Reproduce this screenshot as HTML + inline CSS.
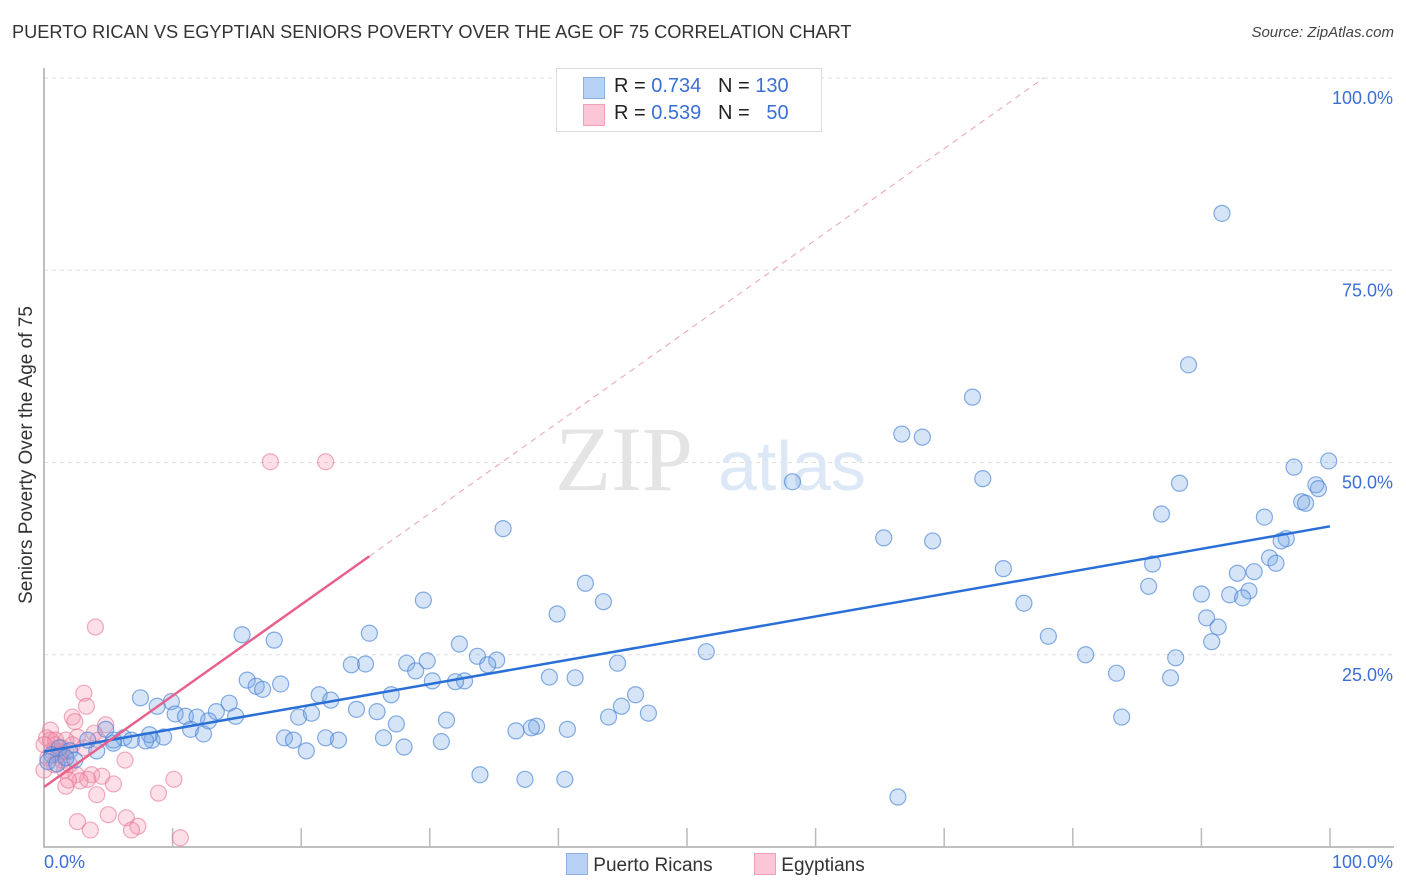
<!DOCTYPE html>
<html><head><meta charset="utf-8"><style>
body{margin:0;background:#fff;font-family:"Liberation Sans",sans-serif;}
#c{position:relative;width:1406px;height:892px;overflow:hidden}
.t{position:absolute;white-space:nowrap}
</style></head><body>
<div id="c">
<div class="t" style="left:12px;top:22px;font-size:18.2px;color:#333">PUERTO RICAN VS EGYPTIAN SENIORS POVERTY OVER THE AGE OF 75 CORRELATION CHART</div>
<div class="t" style="right:12px;top:24px;font-size:15px;color:#444;font-style:italic">Source: ZipAtlas.com</div>
<svg id="s" width="1406" height="892" style="position:absolute;left:0;top:0"></svg>
</div>
<script>
const yTicks=[25,50,75,100];
const yTickLabels=["25.0%","50.0%","75.0%","100.0%"];
const blueX=[91.6,89.0,72.2,66.7,68.3,73.0,58.2,99.9,97.2,98.9,99.1,97.8,98.1,88.3,86.9,94.9,65.3,69.1,35.7,96.6,96.2,95.3,95.8,86.2,94.1,92.8,74.6,42.1,85.9,90.0,92.2,93.7,93.2,29.5,43.5,39.9,76.2,90.4,91.3,90.8,78.1,15.4,17.9,25.3,32.3,51.5,81.0,88.0,33.7,35.2,34.5,29.8,28.2,28.9,25.0,23.9,44.6,30.2,32.7,32.0,39.3,41.3,83.4,87.6,15.8,16.5,17.0,18.4,21.4,27.0,22.3,7.5,9.9,8.8,14.4,46.0,44.9,24.3,25.9,10.2,11.0,11.9,13.4,14.9,12.8,19.8,20.8,31.3,27.4,43.9,47.0,83.8,11.4,12.4,4.8,38.3,37.9,36.7,40.7,6.2,6.8,8.4,9.3,18.7,19.4,21.9,22.9,26.4,30.9,28.0,20.4,5.4,4.1,3.4,1.2,2.0,0.6,0.3,1.0,1.7,2.4,33.9,37.4,40.5,66.4,8.2,7.9,5.4];
const blueY=[82.4,62.7,58.5,53.7,53.3,47.9,47.5,50.2,49.4,47.1,46.6,44.9,44.7,47.3,43.3,42.9,40.2,39.8,41.4,40.1,39.8,37.6,36.9,36.8,35.8,35.6,36.2,34.3,33.9,32.9,32.8,33.3,32.4,32.1,31.9,30.3,31.7,29.8,28.6,26.7,27.4,27.6,26.9,27.8,26.4,25.4,25.0,24.6,24.8,24.3,23.7,24.2,23.9,22.9,23.8,23.7,23.9,21.6,21.6,21.5,22.1,22.0,22.6,22.0,21.7,20.9,20.5,21.2,19.8,19.8,19.1,19.4,18.9,18.3,18.7,19.8,18.3,17.9,17.6,17.3,17.0,16.9,17.6,17.0,16.4,16.9,17.4,16.5,16.0,16.9,17.4,16.9,15.3,14.7,15.3,15.7,15.5,15.1,15.3,14.2,13.9,13.9,14.3,14.2,13.9,14.2,13.9,14.2,13.7,13.0,12.5,13.5,12.5,13.9,12.9,12.5,12.0,11.1,10.8,11.6,11.3,9.4,8.8,8.8,6.5,14.6,13.8,13.9];
const pinkX=[17.6,21.9,4.0,3.1,3.3,4.8,2.2,2.4,2.6,3.9,4.2,0.5,0.9,0.6,1.2,1.7,0.3,1.4,2.0,1.6,2.5,3.7,4.5,3.4,2.8,1.7,1.9,5.4,6.3,10.1,8.9,4.1,5.0,2.6,3.6,6.4,7.3,6.8,10.6,0.2,0.5,0.9,0.0,0.8,1.4,1.1,2.2,3.1,1.7,0.0];
const pinkY=[50.1,50.1,28.6,20.0,18.3,15.9,16.9,16.3,14.3,14.8,13.9,15.2,13.3,12.5,12.4,12.4,11.6,11.3,10.7,10.0,9.4,9.4,9.2,8.8,8.6,7.9,8.7,8.2,11.3,8.8,7.0,6.8,4.2,3.3,2.2,3.8,2.7,2.2,1.2,14.2,13.9,13.9,13.3,10.7,12.9,12.0,13.3,12.9,13.9,10.0];
const blueTrend=[12.4,41.7];
const pinkTrend=[7.8,1.186];
const NS="http://www.w3.org/2000/svg";
const s=document.getElementById('s');
const X=v=>44+12.86*v, Y=v=>847-7.69*v;
function mk(t,a){const e=document.createElementNS(NS,t);for(const k in a)e.setAttribute(k,a[k]);s.appendChild(e);return e;}
yTicks.forEach((t,i)=>{
 const g=mk('line',{x1:44,x2:1394,y1:Y(t),y2:Y(t),stroke:'#ddd','stroke-dasharray':'4,4'});
 
 
 const l=mk('text',{x:1393,y:Y(t)+26,'text-anchor':'end','font-size':18,fill:'#3b6fd6'});
 l.textContent=yTickLabels[i];
 
 
});
const ax=mk('path',{d:'M44 68 V847 H1394',stroke:'#aaa',fill:'none','stroke-width':1.5});


for(let i=1;i<=10;i++){const tk=mk('line',{x1:X(i*10),x2:X(i*10),y1:828,y2:847,stroke:'#bbb','stroke-width':1.5});
 
 }
const wm=mk('text',{x:555,y:490,'font-size':92,fill:'#e4e4e4','font-family':'Liberation Serif'});wm.textContent='ZIP';


const wm2=mk('text',{x:718,y:490,'font-size':70,fill:'#dce8f6'});wm2.textContent='atlas';


pinkX.forEach((x,i)=>{const c=mk('circle',{cx:X(x),cy:Y(pinkY[i]),r:8,fill:'rgba(244,150,176,0.3)',stroke:'rgba(230,120,150,0.6)','stroke-width':1.2});
 
 });
blueX.forEach((x,i)=>{const c=mk('circle',{cx:X(x),cy:Y(blueY[i]),r:8,fill:'rgba(120,165,230,0.3)',stroke:'rgba(70,130,215,0.65)','stroke-width':1.2});
 
 });
const bl=mk('line',{x1:X(0),y1:Y(blueTrend[0]),x2:X(100),y2:Y(blueTrend[1]),stroke:'#2a6fd6','stroke-width':2.5});


const xe=25.3, xd=(100-pinkTrend[0])/pinkTrend[1];
const pl=mk('line',{x1:X(0),y1:Y(pinkTrend[0]),x2:X(xe),y2:Y(pinkTrend[0]+pinkTrend[1]*xe),stroke:'#e8608c','stroke-width':2.5});


const pd=mk('line',{x1:X(xe),y1:Y(pinkTrend[0]+pinkTrend[1]*xe),x2:X(xd),y2:Y(100),stroke:'#eaa0b8','stroke-width':1,'stroke-dasharray':'6,5'});


</script>
<div class="t" style="left:27px;top:455px;font-size:19px;color:#333;transform:translate(-50%,-50%) rotate(-90deg);transform-origin:center">Seniors Poverty Over the Age of 75</div>
<div class="t" style="left:44px;top:852px;font-size:18px;color:#3b6fd6">0.0%</div>
<div class="t" style="right:13px;top:852px;font-size:18px;color:#3b6fd6">100.0%</div>
<div style="position:absolute;left:556px;top:68px;width:264px;height:62px;border:1px solid #ddd;background:#fff;font-size:20px;color:#222">
 <div style="position:absolute;left:26px;top:8px;width:20px;height:20px;background:#b8d2f5;border:1px solid #8ab0e6"></div>
 <div class="t" style="left:57px;top:6px">R = <span style="color:#3b6fd6">0.734</span>&nbsp;&nbsp;&nbsp;N = <span style="color:#3b6fd6">130</span></div>
 <div style="position:absolute;left:26px;top:35px;width:20px;height:20px;background:#fcc6d6;border:1px solid #f0a0b8"></div>
 <div class="t" style="left:57px;top:33px">R = <span style="color:#3b6fd6">0.539</span>&nbsp;&nbsp;&nbsp;N = &nbsp;&nbsp;<span style="color:#3b6fd6">50</span></div>
</div>
<div style="position:absolute;left:566px;top:853px;font-size:19px;color:#333">
 <span style="position:absolute;left:0;top:0;white-space:nowrap"><span style="display:inline-block;width:20px;height:20px;background:#b8d2f5;border:1px solid #8ab0e6;vertical-align:-4px"></span> Puerto Ricans</span>
 <span style="position:absolute;left:188px;top:0;white-space:nowrap"><span style="display:inline-block;width:20px;height:20px;background:#fcc6d6;border:1px solid #f0a0b8;vertical-align:-4px"></span> Egyptians</span>
</div>
</body></html>
